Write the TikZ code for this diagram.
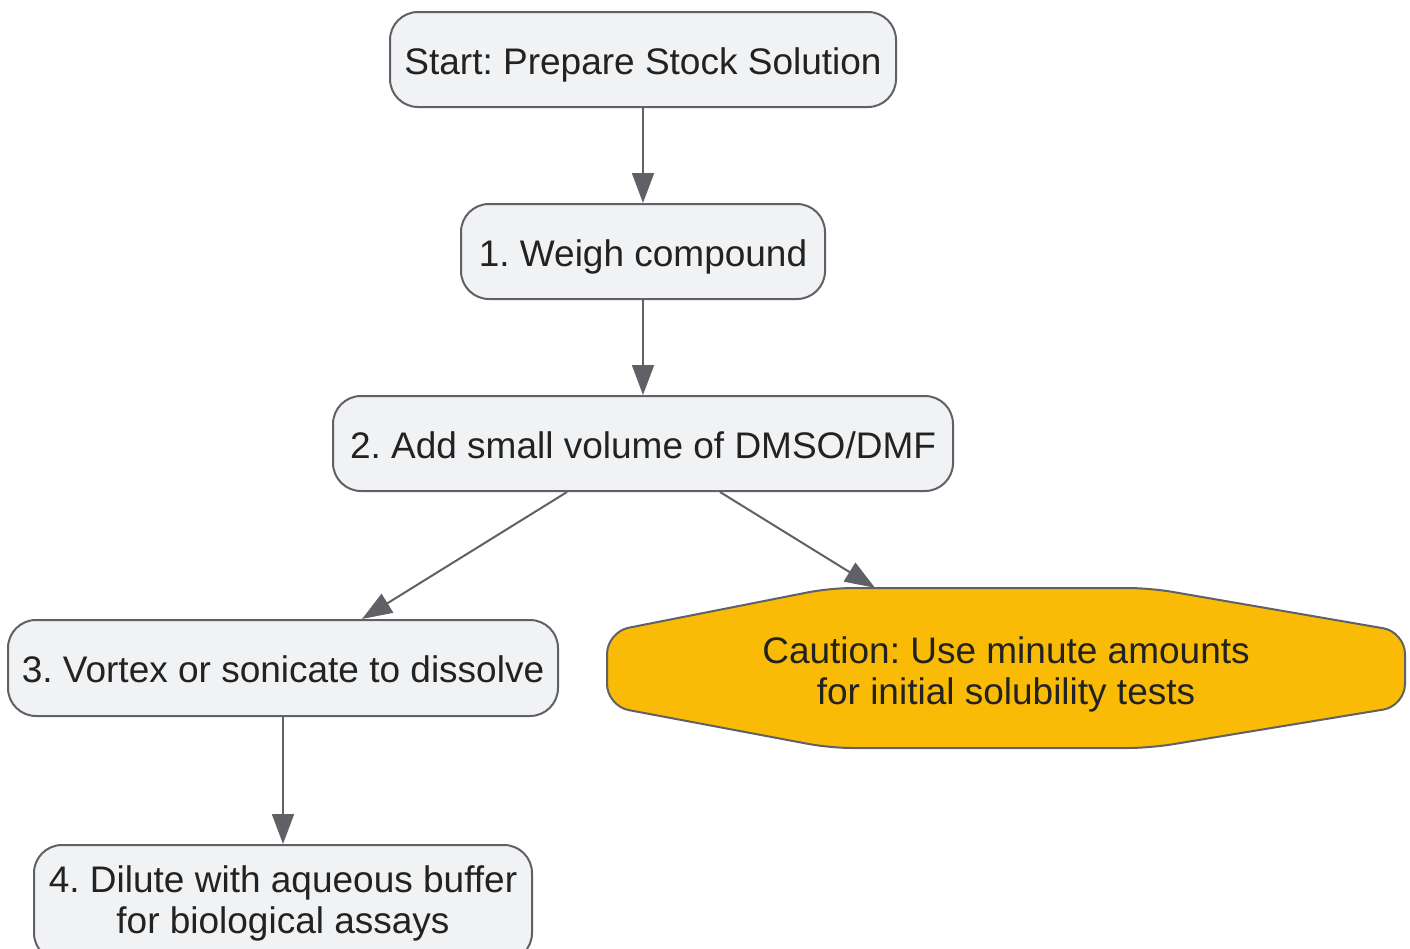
\documentclass[tikz,border=0pt]{standalone}
\usepackage{fontspec}
\setmainfont{Liberation Sans}
\usetikzlibrary{arrows.meta}
\definecolor{boxfill}{HTML}{F1F2F4}
\definecolor{boxline}{HTML}{5F6166}
\definecolor{txt}{HTML}{222222}
\definecolor{warn}{HTML}{F9BB06}
\tikzset{
  stepbox/.style={draw=boxline, line width=2pt, fill=boxfill, rounded corners=28pt,
    text=txt, font=\fontsize{37}{41}\selectfont\frenchspacing, align=center, inner sep=0pt},
  oneline/.style={text height=29pt, text depth=0pt},
  conn/.style={draw=boxline, line width=2pt, -{Triangle[length=30pt,width=22pt]}}
}
\begin{document}
\begin{tikzpicture}[x=1pt,y=-1pt]
\useasboundingbox (0,0) rectangle (1410,948);
\node[stepbox, oneline, minimum width=506pt, minimum height=95pt] (start) at (643,59.5) {Start: Prepare Stock Solution};
\node[stepbox, oneline, minimum width=364pt, minimum height=95pt] (weigh) at (643,251.5) {1. Weigh compound};
\node[stepbox, oneline, minimum width=620pt, minimum height=95pt] (add) at (643,443.5) {2. Add small volume of DMSO/DMF};
\node[stepbox, oneline, minimum width=550pt, minimum height=96pt] (vortex) at (283,668) {3. Vortex or sonicate to dissolve};
\node[stepbox, minimum width=498pt, minimum height=116pt] (dilute) at (283,903) {4. Dilute with aqueous buffer\\for biological assays};
% caution octagon
\draw[draw=boxline, line width=2pt, fill=warn, rounded corners=22pt]
  (990,588) -- (1150,588) -- (1405,632) -- (1405,706) -- (1150,748) -- (830,748) -- (607,706) -- (607,632) -- (830,588) -- cycle;
\node[minimum width=798pt, minimum height=160pt, inner sep=0pt] (caution) at (1006,668) {};
\node[text=txt, font=\fontsize{37}{41}\selectfont\frenchspacing, align=center, inner sep=0pt] (cautiontext) at (1006,674) {Caution: Use minute amounts\\for initial solubility tests};
\draw[conn] (start.south) -- (weigh.north);
\draw[conn] (weigh.south) -- (add.north);
\draw[conn] ([xshift=-76pt]add.south) -- ([xshift=79pt]vortex.north);
\draw[conn] ([xshift=77pt]add.south) -- ([xshift=-131pt]caution.north);
\draw[conn] (vortex.south) -- (dilute.north);
\end{tikzpicture}
\end{document}
